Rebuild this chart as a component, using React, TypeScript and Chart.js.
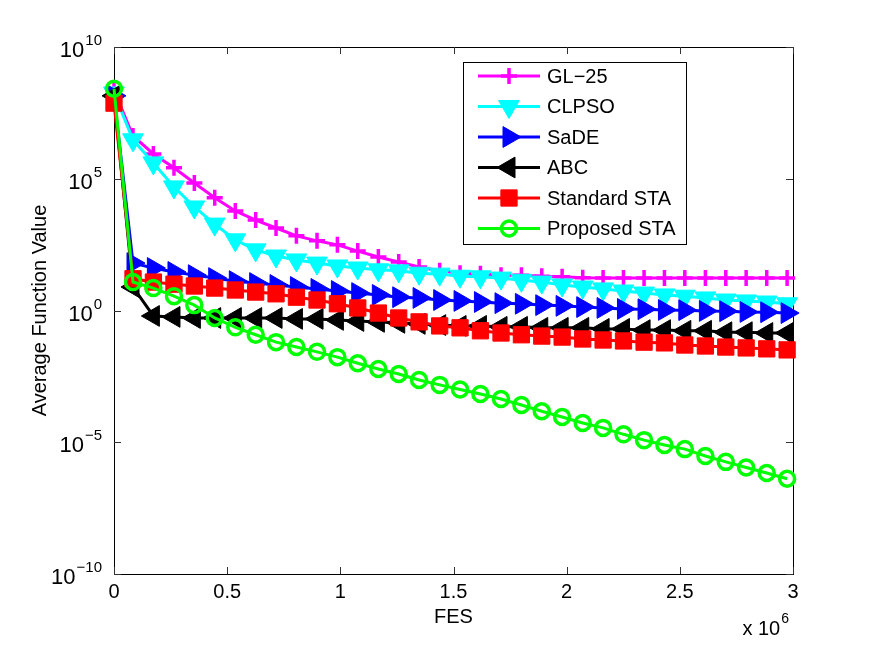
import React, { useEffect, useRef } from 'react';
import { Chart, registerables } from 'chart.js';
import { drawPoint } from 'chart.js/helpers';

Chart.register(...registerables);

// Function evaluations at which each algorithm was sampled
const fes = [
  0, 84000, 174000, 265000, 355000, 445000, 536000, 626000, 716000, 806000, 897000,
  987000, 1077000, 1168000, 1258000, 1348000, 1439000, 1529000, 1619000, 1710000, 1800000,
  1890000, 1980000, 2071000, 2161000, 2251000, 2342000, 2432000, 2522000, 2613000, 2703000,
  2793000, 2884000, 2974000,
];

const gl25 = [
  2.3e8, 4.2e6, 8.7e5, 2.6e5, 6.9e4, 1.9e4, 6.0e3, 2.7e3, 1.35e3, 6.8e2, 4.4e2,
  3.1e2, 1.8e2, 1.07e2, 69, 45, 32, 26, 25, 22, 22,
  20, 19, 17.5, 17, 17, 17, 17, 17, 17, 17,
  17, 17, 17,
];

const clpso = [
  1.8e8, 3.0e6, 4.0e5, 4.9e4, 8.5e3, 1.9e3, 4.8e2, 2.0e2, 1.17e2, 83, 63,
  49, 41, 35, 32, 26, 24, 20, 19, 17, 14,
  12, 9.3, 7.8, 6.6, 5.5, 4.6, 3.9, 3.5, 3.0, 2.5,
  2.3, 2.1, 1.8,
];

const sade = [
  1.4e8, 63, 41, 29, 22, 17, 13, 11, 9.3, 7.8, 6.6,
  5.5, 4.6, 3.9, 3.2, 3.0, 2.5, 2.3, 2.1, 1.9, 1.8,
  1.6, 1.5, 1.35, 1.25, 1.15, 1.12, 1.05, 1.03, 0.96, 0.94,
  0.88, 0.86, 0.8,
];

const abc = [
  1.4e8, 7.8, 0.62, 0.57, 0.52, 0.52, 0.52, 0.52, 0.52, 0.48, 0.48,
  0.44, 0.40, 0.37, 0.34, 0.31, 0.28, 0.26, 0.26, 0.24, 0.24,
  0.22, 0.22, 0.22, 0.20, 0.20, 0.18, 0.18, 0.17, 0.17, 0.15,
  0.15, 0.14, 0.14,
];

const standardSta = [
  7.4e7, 16, 12, 10, 8.5, 7.1, 6.0, 5.0, 4.3, 3.2, 2.5,
  1.8, 1.25, 0.8, 0.52, 0.37, 0.26, 0.22, 0.17, 0.14, 0.12,
  0.107, 0.098, 0.083, 0.076, 0.07, 0.063, 0.059, 0.049, 0.045, 0.041,
  0.038, 0.035, 0.032,
];

const proposedSta = [
  2.6e8, 12, 7.1, 3.5, 1.6, 5.2e-1, 2.3e-1, 1.2e-1, 6.3e-2, 4.1e-2, 2.7e-2,
  1.7e-2, 1.0e-2, 6.0e-3, 3.9e-3, 2.3e-3, 1.5e-3, 1.0e-3, 6.8e-4, 4.4e-4, 2.6e-4,
  1.5e-4, 9.1e-5, 5.4e-5, 3.5e-5, 2.0e-5, 1.2e-5, 7.9e-6, 5.5e-6, 3.0e-6, 1.8e-6,
  1.1e-6, 6.8e-7, 4.1e-7,
];

const xTickValues = [0, 0.5e6, 1e6, 1.5e6, 2e6, 2.5e6, 3e6];
const xTickLabels = ['0', '0.5', '1', '1.5', '2', '2.5', '3'];
const yTickExponents = [-10, -5, 0, 5, 10];

const FONT = '"Liberation Sans", Arial, Helvetica, sans-serif';

type Series = {
  label: string;
  values: number[];
  color: string;
  style: string;
  rotation: number;
  radius: number;
  markerBorder: number;
  filled: boolean;
};

const series: Series[] = [
  { label: 'GL\u221225', values: gl25, color: '#ff00ff', style: 'cross', rotation: 0, radius: 8, markerBorder: 3.5, filled: false },
  { label: 'CLPSO', values: clpso, color: '#00ffff', style: 'triangle', rotation: 180, radius: 12, markerBorder: 1, filled: true },
  { label: 'SaDE', values: sade, color: '#0000ff', style: 'triangle', rotation: 90, radius: 12, markerBorder: 1, filled: true },
  { label: 'ABC', values: abc, color: '#000000', style: 'triangle', rotation: 270, radius: 12, markerBorder: 1, filled: true },
  { label: 'Standard STA', values: standardSta, color: '#ff0000', style: 'rect', rotation: 0, radius: 11.5, markerBorder: 1, filled: true },
  { label: 'Proposed STA', values: proposedSta, color: '#00ff00', style: 'circle', rotation: 0, radius: 7.5, markerBorder: 3.5, filled: false },
];

function drawPower(
  ctx: CanvasRenderingContext2D,
  base: string,
  exp: string,
  x: number,
  y: number,
  align: 'right' | 'left',
  baseSize: number,
  expSize: number,
) {
  ctx.textBaseline = 'middle';
  ctx.textAlign = 'left';
  ctx.font = `${baseSize}px ${FONT}`;
  const wb = ctx.measureText(base).width;
  ctx.font = `${expSize}px ${FONT}`;
  const we = ctx.measureText(exp).width;
  const total = wb + 1 + we;
  const x0 = align === 'right' ? x - total : x;
  ctx.font = `${baseSize}px ${FONT}`;
  ctx.fillText(base, x0, y);
  ctx.font = `${expSize}px ${FONT}`;
  ctx.fillText(exp, x0 + wb + 1, y - 10);
}

const axesPlugin = {
  id: 'matlabAxes',
  beforeDatasetsDraw(chart: any) {
    const { ctx, chartArea: a, scales } = chart;
    const xs = scales.x;
    const ys = scales.y;
    ctx.save();
    ctx.fillStyle = '#ffffff';
    ctx.fillRect(a.left, a.top, a.right - a.left, a.bottom - a.top);
    ctx.strokeStyle = '#000000';
    ctx.lineWidth = 1;
    ctx.strokeRect(a.left + 0.5, a.top + 0.5, a.right - a.left, a.bottom - a.top);

    const tick = 7;
    ctx.strokeStyle = '#333333';
    ctx.beginPath();
    for (const v of xTickValues) {
      const px = Math.round(xs.getPixelForValue(v)) + 0.5;
      ctx.moveTo(px, a.bottom);
      ctx.lineTo(px, a.bottom - tick);
      ctx.moveTo(px, a.top);
      ctx.lineTo(px, a.top + tick);
    }
    for (const e of yTickExponents) {
      const py = Math.round(ys.getPixelForValue(Math.pow(10, e))) + 0.5;
      ctx.moveTo(a.left, py);
      ctx.lineTo(a.left + tick, py);
      ctx.moveTo(a.right, py);
      ctx.lineTo(a.right - tick, py);
    }
    ctx.stroke();

    ctx.fillStyle = '#000000';
    ctx.font = `20px ${FONT}`;
    ctx.textAlign = 'center';
    ctx.textBaseline = 'middle';
    xTickValues.forEach((v, i) => {
      ctx.fillText(xTickLabels[i], xs.getPixelForValue(v), a.bottom + 18);
    });
    for (const e of yTickExponents) {
      const py = ys.getPixelForValue(Math.pow(10, e));
      const expText = e < 0 ? '\u2212' + Math.abs(e) : String(e);
      drawPower(ctx, '10', expText, a.left - 12, py + 4, 'right', 22, 15);
    }

    ctx.font = `20px ${FONT}`;
    ctx.textAlign = 'center';
    ctx.textBaseline = 'middle';
    ctx.fillText('FES', (a.left + a.right) / 2, a.bottom + 43);
    drawPower(ctx, 'x 10', '6', a.right - 4, a.bottom + 55, 'right', 20, 14);

    ctx.save();
    ctx.translate(40, (a.top + a.bottom) / 2);
    ctx.rotate(-Math.PI / 2);
    ctx.font = `20px ${FONT}`;
    ctx.textAlign = 'center';
    ctx.textBaseline = 'middle';
    ctx.fillText('Average Function Value', 0, 0);
    ctx.restore();
    ctx.restore();
  },
  afterDatasetsDraw(chart: any) {
    const { ctx } = chart;
    const box = { left: 463, top: 62, width: 223, height: 182 };
    ctx.save();
    ctx.fillStyle = '#ffffff';
    ctx.fillRect(box.left, box.top, box.width, box.height);
    ctx.strokeStyle = '#000000';
    ctx.lineWidth = 1;
    ctx.strokeRect(box.left + 0.5, box.top + 0.5, box.width, box.height);
    const rowH = 30.5;
    series.forEach((s, i) => {
      const y = box.top + 14 + i * rowH;
      ctx.strokeStyle = s.color;
      ctx.lineWidth = 3;
      ctx.beginPath();
      ctx.moveTo(box.left + 15, y);
      ctx.lineTo(box.left + 77, y);
      ctx.stroke();
      ctx.fillStyle = s.filled ? s.color : 'rgba(0,0,0,0)';
      ctx.lineWidth = s.markerBorder;
      drawPoint(ctx, {
        pointStyle: s.style,
        rotation: s.rotation,
        radius: s.radius,
        borderWidth: s.markerBorder,
      } as any, box.left + 46, y);
      ctx.fillStyle = '#000000';
      ctx.font = `20px ${FONT}`;
      ctx.textAlign = 'left';
      ctx.textBaseline = 'middle';
      ctx.fillText(s.label, box.left + 84, y + 1);
    });
    ctx.restore();
  },
};

export default function App() {
  const canvasRef = useRef<HTMLCanvasElement | null>(null);

  useEffect(() => {
    const canvas = canvasRef.current;
    if (!canvas) return;
    const datasets = series.map((s, i) => ({
      label: s.label,
      data: fes.map((x, j) => ({ x, y: s.values[j] })),
      borderColor: s.color,
      backgroundColor: s.color,
      borderWidth: 3,
      pointStyle: s.style,
      pointRotation: s.rotation,
      pointRadius: s.radius,
      pointHoverRadius: s.radius,
      pointBorderWidth: s.markerBorder,
      pointBorderColor: s.color,
      pointBackgroundColor: s.filled ? s.color : 'rgba(0,0,0,0)',
      tension: 0,
      clip: false as any,
      order: series.length - 1 - i,
    }));

    const chart = new Chart(canvas, {
      type: 'line',
      data: { datasets },
      options: {
        animation: false,
        responsive: false,
        maintainAspectRatio: false,
        events: [],
        layout: { padding: { left: 114, top: 47, right: 82, bottom: 72 } },
        plugins: {
          legend: { display: false },
          tooltip: { enabled: false },
          title: { display: false },
        },
        scales: {
          x: { type: 'linear', min: 0, max: 3e6, display: false },
          y: { type: 'logarithmic', min: 1e-10, max: 1e10, display: false },
        },
      },
      plugins: [axesPlugin],
    });
    return () => chart.destroy();
  }, []);

  return (
    <div style={{ position: 'absolute', left: 0, top: 0, width: 875, height: 646, background: '#ffffff' }}>
      <canvas ref={canvasRef} width={875} height={646} style={{ display: 'block', width: 875, height: 646 }} />
    </div>
  );
}
